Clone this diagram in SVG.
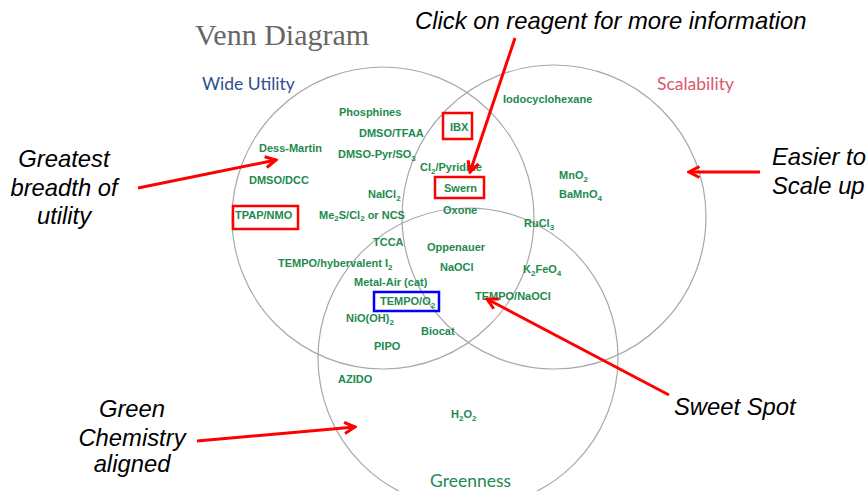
<svg xmlns="http://www.w3.org/2000/svg" width="868" height="491" viewBox="0 0 868 491">
<defs>
<style>
.c{fill:none;stroke:#a8a8a8;stroke-width:1.2}
.r{font-family:"Liberation Sans",Arial,sans-serif;font-weight:bold;font-size:11px;fill:#1e8a4e}
.s{font-size:8px}
.cat{font-family:Lato,"Liberation Sans",sans-serif;font-size:17.5px}
.note{font-family:"Liberation Sans",Arial,sans-serif;font-style:italic;font-size:23.8px;fill:#000}
.box{fill:none;stroke:#ff0000;stroke-width:2.5}
.bbox{fill:none;stroke:#0000ff;stroke-width:2.5}
.arr{fill:none;stroke:#ff0000;stroke-width:3;marker-end:url(#ah)}
</style>
<marker id="ah" viewBox="0 0 14 14" markerWidth="14" markerHeight="14" refX="12" refY="7" orient="auto" markerUnits="userSpaceOnUse">
<path d="M1.5,1.5 L12,7 L1.5,12.5" fill="none" stroke="#ff0000" stroke-width="3"/>
</marker>
</defs>
<rect width="868" height="491" fill="#ffffff"/>
<text x="195" y="45" font-family="'Liberation Serif','DejaVu Serif',serif" font-size="30" fill="#666666">Venn Diagram</text>

<g id="circles">
<circle id="wide-utility" class="c" cx="383" cy="218" r="151"/>
<circle id="scalability" class="c" cx="554" cy="217" r="152"/>
<circle id="greenness" class="c" cx="468" cy="358" r="150"/>
</g>

<g id="category-labels">
<text class="cat" x="202" y="90" fill="#2e4f8f">Wide Utility</text>
<text class="cat" x="657" y="90" fill="#d9576a">Scalability</text>
<text class="cat" x="430" y="487" fill="#1e8a4e">Greenness</text>
</g>

<g id="reagents">
<text class="r" x="339" y="116">Phosphines</text>
<text class="r" x="359" y="137">DMSO/TFAA</text>
<g id="ibx"><rect class="box" x="443" y="113" width="29" height="26"/><text class="r" x="450" y="131">IBX</text></g>
<text class="r" x="259" y="152">Dess-Martin</text>
<text class="r" x="338" y="158">DMSO-Pyr/SO<tspan class="s" dy="2.5">3</tspan></text>
<text class="r" x="420" y="171">Cl<tspan class="s" dy="2.5">2</tspan><tspan dy="-2.5">/Pyridine</tspan></text>
<g id="swern"><rect class="box" x="435" y="177" width="49" height="21"/><text class="r" x="444" y="192">Swern</text></g>
<text class="r" x="249" y="184">DMSO/DCC</text>
<text class="r" x="368" y="198">NaICl<tspan class="s" dy="2.5">2</tspan></text>
<text class="r" x="443" y="214">Oxone</text>
<g id="tpap"><rect class="box" x="233" y="206" width="65" height="23"/><text class="r" x="235" y="219">TPAP/NMO</text></g>
<text class="r" x="319" y="219">Me<tspan class="s" dy="2">2</tspan><tspan dy="-2">S/Cl</tspan><tspan class="s" dy="2">2</tspan><tspan dy="-2"> or NCS</tspan></text>
<text class="r" x="503" y="103">Iodocyclohexane</text>
<text class="r" x="559" y="179">MnO<tspan class="s" dy="2.5">2</tspan></text>
<text class="r" x="559" y="198">BaMnO<tspan class="s" dy="2.5">4</tspan></text>
<text class="r" x="524" y="227">RuCl<tspan class="s" dy="2.5">3</tspan></text>
<text class="r" x="373" y="246">TCCA</text>
<text class="r" x="427" y="251">Oppenauer</text>
<text class="r" x="278" y="267">TEMPO/hybervalent I<tspan class="s" dy="2.5">2</tspan></text>
<text class="r" x="440" y="271">NaOCl</text>
<text class="r" x="523" y="273">K<tspan class="s" dy="2.5">2</tspan><tspan dy="-2.5">FeO</tspan><tspan class="s" dy="2.5">4</tspan></text>
<text class="r" x="354" y="286">Metal-Air (cat)</text>
<g id="tempo-o2"><rect class="bbox" x="374" y="292" width="65" height="19"/><text class="r" x="380" y="305">TEMPO/O<tspan class="s" dy="2.5">2</tspan></text></g>
<text class="r" x="475" y="300">TEMPO/NaOCl</text>
<text class="r" x="346" y="322">NiO(OH)<tspan class="s" dy="2.5">2</tspan></text>
<text class="r" x="421" y="335">Biocat</text>
<text class="r" x="374" y="350">PIPO</text>
<text class="r" x="338" y="383">AZIDO</text>
<text class="r" x="451" y="418" font-size="10">H<tspan class="s" dy="2.5">2</tspan><tspan dy="-2.5">O</tspan><tspan class="s" dy="2.5">2</tspan></text>
</g>

<g id="notes">
<text class="note" x="415" y="29">Click on reagent for more information</text>
<text class="note" text-anchor="middle" x="64" y="167">Greatest</text>
<text class="note" text-anchor="middle" x="64" y="196">breadth of</text>
<text class="note" text-anchor="middle" x="64" y="224">utility</text>
<text class="note" x="772" y="165">Easier to</text>
<text class="note" x="772" y="194">Scale up</text>
<text class="note" x="674" y="415">Sweet Spot</text>
<text class="note" text-anchor="middle" x="132" y="417">Green</text>
<text class="note" text-anchor="middle" x="132" y="446">Chemistry</text>
<text class="note" text-anchor="middle" x="132" y="472">aligned</text>
</g>

<g id="connectors">
<line class="arr" x1="515" y1="38" x2="470" y2="172"/>
<line class="arr" x1="138" y1="188" x2="276" y2="160"/>
<line class="arr" x1="760" y1="172" x2="689" y2="172"/>
<line class="arr" x1="669" y1="395" x2="487" y2="299"/>
<line class="arr" x1="197" y1="441" x2="355" y2="427"/>
</g>
</svg>
